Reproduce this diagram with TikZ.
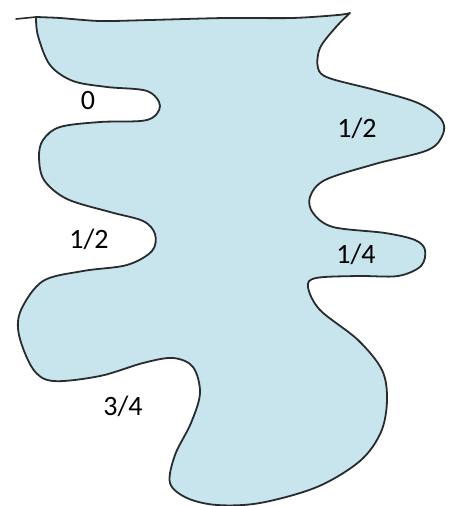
\documentclass[tikz,border=0pt]{standalone}
\usepackage{fontspec}
\setmainfont{Carlito}
\usetikzlibrary{positioning}
\definecolor{blobblue}{RGB}{200,228,236}
\definecolor{penline}{RGB}{40,44,46}
\tikzset{
  blob/.style  ={fill=blobblue,draw=penline,line width=1.8pt,line join=round,line cap=round},
  ink/.style   ={draw=penline,line width=1.6pt,line cap=round},
  frac/.style  ={font=\fontsize{28}{32}\selectfont,inner sep=0pt},
}

\begin{document}
\begin{tikzpicture}[x=1pt,y=-1pt]
  \useasboundingbox (0,0) rectangle (450,506);
  % the region, top edge drawn as a separate wavy line
  \path[blob] (36,17) -- plot[smooth,tension=0.55] coordinates {
      (36,17) (38,36) (50,65) (73,81) (107,87) (147,91) (160,106) (147,120)
      (100,122) (60,127) (43,140) (39,157) (44,180) (67,199) (110,212) (143,221)
      (155,234) (152,251) (127,265) (83,271) (43,281) (21,310) (19,335) (33,369)
      (53,381) (100,376) (143,363) (173,358) (193,367) (200,393) (191,423)
      (175,455) (170,483) (187,498) (217,505) (260,503) (317,487) (360,461)
      (381,432) (387,400) (382,370) (358,340) (320,310) (308,287) (316,278)
      (358,276) (398,276) (421,266) (425,250) (415,240) (385,233) (333,227)
      (313,213) (310,197) (325,180) (375,164) (428,150) (443,134) (441,119)
      (418,103) (375,90) (329,78) (318,68) (320,48) (336,27) (350,13)}
    -- plot[smooth,tension=0.5] coordinates {
      (350,13) (338,15) (292,18) (225,18) (150,20) (100,21) (60,18) (36,17)}
    -- cycle;
  \draw[ink] (16,19) -- (36,17);
  % labels
  \node[frac] (zero) at (88,101) {0};
  \node[frac] (halfL) at (89,239) {1/2};
  \node[frac] (threeq) at (123,406) {3/4};
  \node[frac] (halfR) at (357,128) {1/2};
  \node[frac] (quart) at (356,254) {1/4};
\end{tikzpicture}
\end{document}
